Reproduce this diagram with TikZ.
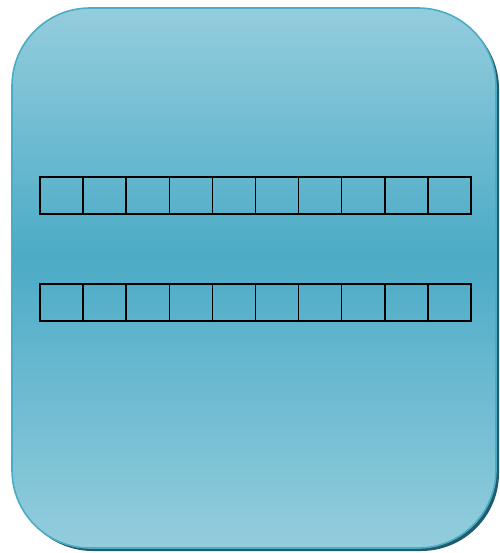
\documentclass[tikz,border=0pt]{standalone}
\usetikzlibrary{positioning}
\definecolor{lightteal}{RGB}{148,205,221}
\definecolor{midteal}{RGB}{75,171,198}
\definecolor{edgeteal}{RGB}{75,172,198}
\definecolor{shadowteal}{RGB}{32,92,108}
\pgfdeclareverticalshading{panelshade}{100bp}{color(0bp)=(lightteal); color(25bp)=(lightteal); color(52bp)=(midteal); color(75bp)=(lightteal); color(100bp)=(lightteal)}
\tikzset{
  cell/.style={draw=black, line width=1.5pt, minimum width=43.1pt, minimum height=37pt, inner sep=0pt, outer sep=0pt, anchor=north west},
  panel/.style={draw=edgeteal, line width=1.6pt, shading=panelshade, rounded corners=78pt},
  panelshadow/.style={fill=shadowteal, rounded corners=78pt}
}
\begin{document}
\begin{tikzpicture}[x=1pt,y=-1pt]
\useasboundingbox (0,0) rectangle (499,553);
\fill[panelshadow] (15,11) rectangle (499,551);
\path[panel] (12,8) rectangle (496,548);
\foreach \i in {1,...,10}{
  \node[cell] (a\i) at ({40+(\i-1)*43.1},177) {};
  \node[cell] (b\i) at ({40+(\i-1)*43.1},284) {};
}
\end{tikzpicture}
\end{document}
